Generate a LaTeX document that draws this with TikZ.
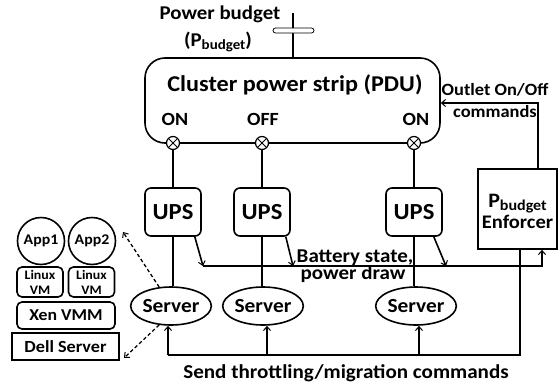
\documentclass[tikz,border=0pt]{standalone}
\usepackage{fontspec}
\setmainfont{Carlito}[FakeStretch=1.07]
\usetikzlibrary{arrows.meta,shapes.geometric,calc}
\newcommand{\fs}[1]{\fontsize{#1}{#1}\selectfont\bfseries}
\begin{document}
\begin{tikzpicture}[x=1pt,y=-1pt, line width=1.6pt,
 arr/.style={-{Straight Barb[length=4pt,width=7pt,line width=1pt]}},
 upsbox/.style={draw, rounded corners=6pt, minimum width=56pt, minimum height=48pt, inner sep=0pt, font=\fs{23}},
 srv/.style={draw, ellipse, minimum width=64pt, minimum height=38pt, inner sep=0pt, font=\fs{20}},
 lbl/.style={inner sep=0pt, anchor=base},
 sw/.style={draw, circle, minimum size=13pt, inner sep=0pt, fill=white, line width=1.2pt},
 vmbox/.style={draw, rounded corners=5pt, inner sep=0pt},
 dsh/.style={line width=1.3pt, dash pattern=on 3.5pt off 2.5pt},
]
\useasboundingbox (0,0) rectangle (559,383);

% PDU
\node[draw, rounded corners=20pt, minimum width=295pt, minimum height=85pt, inner sep=0pt] (pdu) at (292.5,100.5) {};
\node[lbl, font=\fs{22.6}] (pdut) at (295,91) {Cluster power strip (PDU)};
\node[lbl, font=\fs{18.6}] (on1) at (175,125) {ON};
\node[lbl, font=\fs{18.6}] (off2) at (263,125) {OFF};
\node[lbl, font=\fs{18.6}] (on3) at (416,125) {ON};

% power budget
\coordinate (pb) at (293,13);
\draw (pb) -- (pb |- pdu.north);
\node[draw, fill=white, rounded corners=2.5pt, minimum width=41pt, minimum height=5pt, line width=0.8pt, inner sep=0pt] (brk) at (293.5,30.5) {};
\node[lbl, font=\fs{19.5}] (pbt1) at (220,19) {Power budget};
\node[lbl, font=\fs{19.5}] (pbt2) at (218,46) {(P\raisebox{-3.5pt}{\fs{14}budget})};

% switches
\node[sw] (c1) at (173,143) {};
\node[sw] (c2) at (262,143) {};
\node[sw] (c3) at (414,143) {};
\foreach \c in {c1,c2,c3}{
  \draw[line width=1pt, shorten <=0.5pt, shorten >=0.5pt] (\c.north west) -- (\c.south east);
  \draw[line width=1pt, shorten <=0.5pt, shorten >=0.5pt] (\c.north east) -- (\c.south west);
}

% UPS
\node[upsbox] (u1) at (173,212) {UPS};
\node[upsbox] (u2) at (262,212) {UPS};
\node[upsbox] (u3) at (414,212) {UPS};

% servers
\node[srv] (s1) at (171,306) {Server};
\node[srv] (s2) at (263,306) {Server};
\node[srv] (s3) at (416,306) {Server};

\draw (c1) -- (u1);
\draw (c2) -- (u2);
\draw (c3) -- (u3);
\draw (u1.south) -- (u1.south |- s1.north);
\draw (u2.south) -- (u2.south |- s2.north);
\draw (u3.south) -- (u3.south |- s3.north);

% enforcer
\node[draw, minimum width=79pt, minimum height=80pt, inner sep=0pt] (enf) at (517.5,209) {};
\node[lbl, font=\fs{20.5}] (enft1) at (517.5,207) {P\raisebox{-3.5pt}{\fs{15}budget}};
\node[lbl, font=\fs{19.2}] (enft2) at (517.5,228) {Enforcer};

% outlet commands
\draw[arr] ($(enf.north)+(20.5,0)$) |- ($(pdu.east)+(0,2.5)$);
\node[lbl, font=\fs{17.2}] (oc1) at (495,95) {Outlet On/Off};
\node[lbl, font=\fs{17.2}] (oc2) at (495,117) {commands};

% battery state bus
\coordinate (b1) at (203,266);
\coordinate (b2) at (293,266);
\coordinate (b3) at (446,266);
\draw[arr] (b1) -| ($(enf.south)+(24.5,0)$);
\draw[arr] ($(u1.south east)+(-7,0)$) -- (b1);
\draw[arr] ($(u2.south east)+(-5,0)$) -- (b2);
\draw[arr] ($(u3.south east)+(-9,0)$) -- (b3);
\node[lbl, font=\fs{19.6}] (bs1) at (355,262) {Battery state,};
\node[lbl, font=\fs{19.6}] (bs2) at (353,279) {power draw};

% throttling commands
\coordinate (t1) at (168,355);
\coordinate (t2) at (267,355);
\coordinate (t3) at (419,355);
\draw ($(enf.south)+(2.5,0)$) |- (t1);
\draw[arr] (t1) -- (t1 |- s1.south);
\draw[arr] (t2) -- (t2 |- s2.south);
\draw[arr] (t3) -- (t3 |- s3.south);
\node[lbl, font=\fs{19.7}] (stc) at (346,378) {Send throttling/migration commands};

% left stack
\node[draw, circle, minimum size=47pt, inner sep=0pt, font=\fs{14.8}] (app1) at (41,241) {App1};
\node[draw, circle, minimum size=47pt, inner sep=0pt, font=\fs{14.8}] (app2) at (92,241) {App2};
\node[vmbox, minimum width=46pt, minimum height=30pt, align=center, font=\fontsize{13}{15}\selectfont\bfseries] (vm1) at (40,282) {Linux\\VM};
\node[vmbox, minimum width=46pt, minimum height=30pt, align=center, font=\fontsize{13}{15}\selectfont\bfseries] (vm2) at (91.5,282) {Linux\\VM};
\node[vmbox, minimum width=98pt, minimum height=27pt, font=\fs{16.6}] (xen) at (66,315.5) {Xen VMM};
\node[draw, minimum width=107pt, minimum height=27pt, inner sep=0pt, font=\fs{17}] (dell) at (65.5,346.5) {Dell Server};

\coordinate (dA) at (123,232);
\coordinate (dB) at (124,358);
\draw[dsh, arr] (s1.122) -- (dA);
\draw[dsh, arr] (s1.238) -- (dB);
\end{tikzpicture}
\end{document}
